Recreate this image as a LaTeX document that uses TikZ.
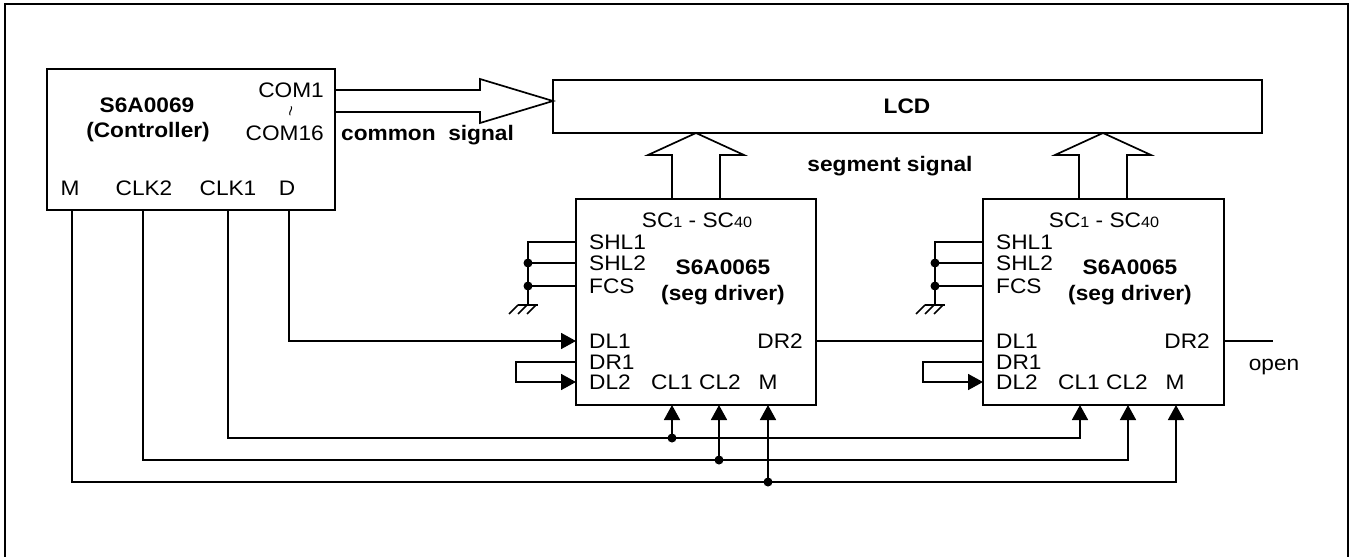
\documentclass[tikz,border=0pt]{standalone}
\usepackage{fontspec}
\setmainfont[FakeStretch=1.08]{Liberation Sans}
\usetikzlibrary{arrows.meta}
\newcommand\bigf{\fontsize{21}{25}\selectfont}
\newcommand\subf{\fontsize{15}{17}\selectfont}
\tikzset{
  box/.style={draw, line width=2.2pt, inner sep=0pt, outer sep=0pt},
  wire/.style={line width=1.7pt},
  arr/.style={-{Triangle[length=15pt,width=16pt]}},
  lbl/.style={inner sep=0pt, text height=15pt, text depth=0pt, font=\bigf},
  blbl/.style={lbl, font=\bigf\bfseries},
  jdot/.style={circle, fill, inner sep=0pt, minimum size=9pt},
}
\begin{document}
\begin{tikzpicture}[x=1pt,y=-1pt]
\useasboundingbox (0,0) rectangle (1353,557);
\draw[line width=2.2pt] (5,557) -- (5,4) -- (1348,4) -- (1348,557);

% main blocks
\node[box, minimum width=288pt, minimum height=141pt] (ctrl) at (191,139.5) {};
\node[box, minimum width=709pt, minimum height=53pt] (lcd) at (907.5,106.5) {};
\node[box, minimum width=240pt, minimum height=206pt] (drv1) at (696,302) {};
\node[box, minimum width=241pt, minimum height=206pt] (drv2) at (1103.5,302) {};

% controller texts
\node[blbl] (cname) at (147,105) {S6A0069};
\node[blbl] (crole) at (148,130) {(Controller)};
\node[lbl, anchor=east] (com1) at (324,90) {COM1};
\node[inner sep=0pt, rotate=80, font=\fontsize{17}{17}\selectfont] (tld) at (293,112) {\textasciitilde};
\node[lbl, anchor=east] (com16) at (324,133) {COM16};
\node[blbl, anchor=west] (csig) at (341,133) {common\ \ signal};
\node[lbl] (pinM) at (70,188) {M};
\node[lbl] (pinC2) at (144,188) {CLK2};
\node[lbl] (pinC1) at (228,188) {CLK1};
\node[lbl] (pinD) at (287,188) {D};

\node[blbl] (lcdt) at (907,106) {LCD};
\node[blbl] (ssig) at (890,164) {segment signal};

% common signal arrow
\draw[wire] (ctrl.east |- 0,90) -- (480,90) -- (480,79) -- (lcd.west |- 0,101)
  -- (480,123) -- (480,112) -- (ctrl.east |- 0,112);

% driver contents
\foreach \d/\o in {drv1/0, drv2/407}{
  \node[lbl] (sc-\d) at (697+\o,220) {SC{\subf 1} - SC{\subf 40}};
  \node[lbl, anchor=west] (shla-\d) at (589+\o,242) {SHL1};
  \node[lbl, anchor=west] (shlb-\d) at (589+\o,263) {SHL2};
  \node[lbl, anchor=west] (fcs-\d) at (589+\o,286) {FCS};
  \node[blbl] (nm-\d) at (723+\o,267) {S6A0065};
  \node[blbl] (rl-\d) at (723+\o,293) {(seg driver)};
  \node[lbl, anchor=west] (dla-\d) at (589+\o,341) {DL1};
  \node[lbl, anchor=east] (drb-\d) at (803+\o,341) {DR2};
  \node[lbl, anchor=west] (dra-\d) at (589+\o,362) {DR1};
  \node[lbl, anchor=west] (dlb-\d) at (589+\o,382) {DL2};
  \node[lbl] (cla-\d) at (672+\o,382) {CL1};
  \node[lbl] (clb-\d) at (720+\o,382) {CL2};
  \node[lbl] (mm-\d) at (768+\o,382) {M};
  % segment arrow
  \draw[wire] (\d.north -| 672+\o,0) -- (672+\o,155) -- (648+\o,155)
    -- (lcd.south -| 696+\o,0) -- (744+\o,155) -- (720+\o,155) -- (\d.north -| 720+\o,0);
  % ties to ground
  \node[jdot] (ga-\d) at (528+\o,263) {};
  \node[jdot] (gb-\d) at (528+\o,286) {};
  \coordinate (gnd-\d) at (528+\o,305);
  \draw[wire] (\d.west |- 0,242) -| (gnd-\d);
  \draw[wire] (\d.west |- 0,263) -- (ga-\d.center);
  \draw[wire] (\d.west |- 0,286) -- (gb-\d.center);
  \draw[wire] (518+\o,305) -- (538+\o,305);
  \foreach \h in {0,9,18}{
    \draw[wire] (518+\o+\h,305) -- (509+\o+\h,314);
  }
  % DR1 -> DL2 loop
  \draw[wire, arr] (\d.west |- 0,362) -- (516+\o,362) |- (\d.west |- 0,382);
}

% data chain
\draw[wire, arr] (ctrl.south -| 289,0) |- (drv1.west |- 0,341);
\draw[wire] (drv1.east |- 0,341) -- (drv2.west |- 0,341);
\coordinate (openend) at (1273,341);
\draw[wire] (drv2.east |- 0,341) -- (openend);
\node[lbl] (opent) at (1274,363) {open};

% clock and M buses
\draw[wire, arr] (ctrl.south -| 228,0) |- (1080,438) -- (drv2.south -| 1080,0);
\draw[wire, arr] (ctrl.south -| 143,0) |- (1128,460) -- (drv2.south -| 1128,0);
\draw[wire, arr] (ctrl.south -| 72,0) |- (1176,482) -- (drv2.south -| 1176,0);
\node[jdot] (j1) at (672,438) {};
\node[jdot] (j2) at (719,460) {};
\node[jdot] (j3) at (768,482) {};
\draw[wire, arr] (j1.center) -- (drv1.south -| j1);
\draw[wire, arr] (j2.center) -- (drv1.south -| j2);
\draw[wire, arr] (j3.center) -- (drv1.south -| j3);
\end{tikzpicture}
\end{document}
